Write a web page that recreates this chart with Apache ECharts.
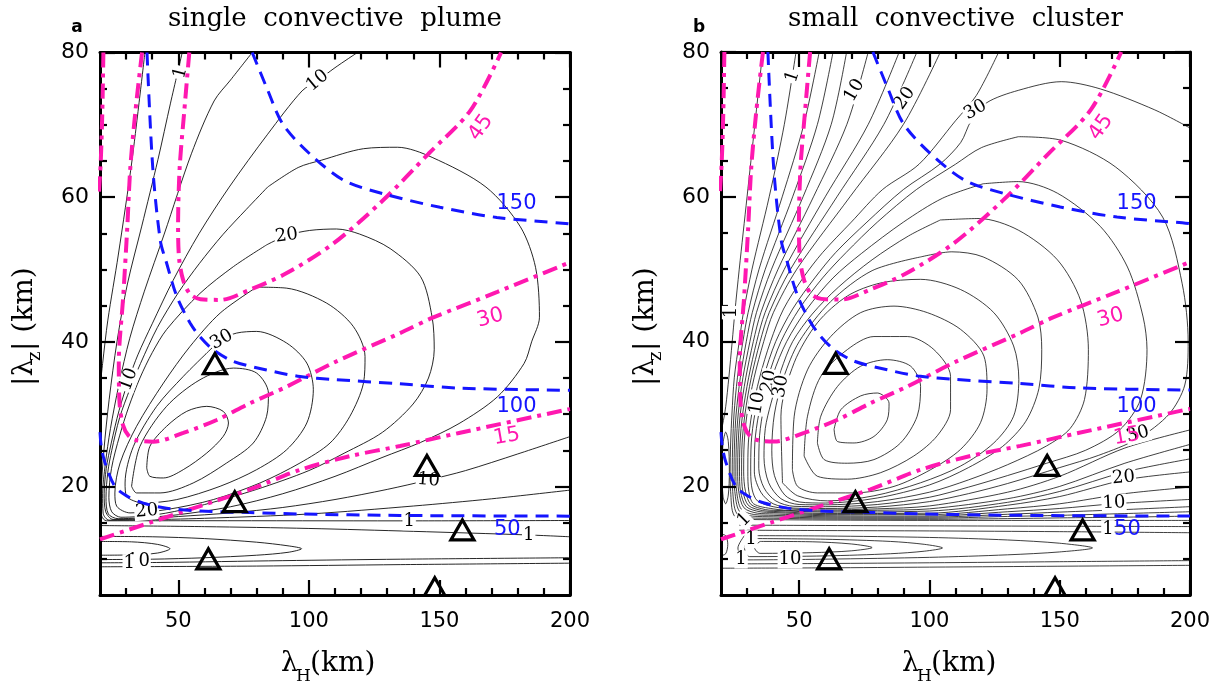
<!DOCTYPE html>
<html><head><meta charset="utf-8">
<script src="https://cdn.jsdelivr.net/npm/echarts@6/dist/echarts.min.js"></script>
<style>html,body{margin:0;padding:0;background:#fff}#c{width:1223px;height:684px}</style>
</head><body><div id="c"></div>
<script>
// ---------- axis ticks ----------
const xMajor = [50, 100, 150, 200];
const xMinor = [30, 40, 60, 70, 80, 90, 110, 120, 130, 140, 160, 170, 180, 190];
const yMajor = [20, 40, 60, 80];
const yMinor = [10, 15, 25, 30, 35, 45, 50, 55, 65, 70, 75];

// ---------- shared dashed lines (same in both panels) ----------
const m45 = [[54.2,80],[52.3,72],[50.5,64],[49.9,56],[50.3,51.5],[51.8,48.6],[54.5,46.6],[58.5,45.9],[66,45.8],[77.4,47.2],[91.5,49.5],[109.4,53.6],[128.2,59.5],[145.8,66],[161.9,72],[173.6,80]];
const m30 = [[36.1,80],[33.6,72],[31.6,64],[30.4,55.5],[28.9,46.3],[27.2,37.1],[27.5,31.5],[28.8,28.5],[31,27],[34,26.4],[40.4,26.2],[51.9,27.4],[64.7,29.2],[77.4,31.5],[91.5,33.8],[109.4,37.1],[134.9,41.2],[147.2,43.3],[172.2,46.9],[200,51]];
const m15 = [[20,12.7],[39.1,15],[58.3,17.3],[77.4,19.6],[96.6,22.3],[115.7,24.2],[134.9,25.6],[157.5,27.4],[198.5,30.6],[200,30.7]];
const m15left = [[21.3,80],[20.9,72],[20.3,65],[19.5,60]];
const b150 = [[78.3,80],[84,75],[90,70.1],[100.3,66],[113.5,62.3],[128.2,60.5],[150.2,58.6],[172,57.2],[197,56.4],[200,56.3]];
const b100 = [[38,80],[40.2,64.1],[43.1,54],[45.5,50.9],[49.4,46.3],[54.5,42.6],[58.3,40.7],[63.4,38.9],[71.1,37.3],[83.8,36.1],[96.6,35.2],[109.4,34.8],[134.9,34.2],[157.6,33.6],[200,33.3]];
const b50 = [[20,27.5],[20.5,25.5],[21.9,23.3],[25.7,20.0],[30.2,18.7],[36.6,17.7],[45.5,17.0],[58.3,16.6],[77.4,16.4],[96.6,16.2],[134.9,16.0],[200,15.9]];
const magentaLabels = [[165.9,69.6,'45',55],[169.5,43.3,'30',15],[175.8,26.9,'15',10]];
const blueLabels = [[179.5,59.1,'150',0],[179.5,31.0,'100',0],[176,14.0,'50',0]];
const triangles = [[64,37],[71.6,17.9],[61.5,10.0],[145.2,22.9],[158.8,14.0],[148.2,6.0]];

// ---------- panel a : black contours ----------
const aE1 = [[37.9,22.56],[39.1,25.55],[45.5,28.32],[53.2,30.39],[60.9,31.08],[67.2,30.39],[69.2,28.78],[67.2,26.93],[60.9,24.63],[51.9,22.33],[44.3,21.18],[39.1,21.41],[37.9,22.56]];
const aE2 = [[32.1,20.03],[35.3,25.55],[45.5,31.08],[58.3,34.76],[71.1,36.37],[80.0,35.68],[84.5,32.92],[83.8,29.70],[78.7,26.01],[68.5,23.25],[55.7,20.49],[43.0,19.11],[34.0,19.11],[32.1,20.03]];
const aE3 = [[60.9,38.45],[51.9,35.22],[41.7,31.08],[32.8,25.55],[29.6,20.49],[30.2,18.65],[36.6,17.73],[49.4,18.19],[66.0,20.03],[80.0,22.33],[91.5,25.09],[99.2,28.78],[101.7,33.38],[99.2,37.06],[91.5,39.83],[80.0,41.44],[72.3,41.21],[66.6,40.3],[60.9,38.45]];
const aE4 = [[80.0,47.56],[91.5,47.42],[106.8,45.35],[117.0,42.13],[121.5,37.98],[120.9,34.30],[115.7,29.70],[108.1,26.01],[96.6,23.25],[81.3,20.49],[63.4,18.19],[45.5,16.81],[31.5,16.35],[26.4,17.27],[25.7,19.11],[27.7,23.25],[34.0,28.32],[44.3,34.30],[54.5,39.37],[66.0,43.97],[80.0,47.56]];
const aE5 = [[83.8,53.4],[91.5,54.7],[100.3,55.4],[110.6,55.6],[119.4,54.9],[131.1,52.9],[142.8,49.0],[147.2,43.4],[148.0,38.9],[145.8,35],[139.9,31.4],[128.2,27.5],[113.5,24.6],[100,22.2],[80,19.6],[60,17.5],[45,16.3],[35,15.85],[28,15.75],[24.5,16.5],[23.4,18.5],[24.4,22.5],[27.5,27],[31,31],[35.3,35],[40,38.5],[45.5,41.7],[58.3,46.7],[71.1,50.4],[83.8,53.4]];
const aE6 = [[84.2,61.4],[95.9,64.1],[104.7,65.1],[120.9,66.7],[134.0,66.9],[147.2,65.5],[167.8,61.4],[181.0,55.9],[186.8,50.3],[188.3,43.4],[185.3,40],[182.4,37],[172.2,32.4],[157.5,28.7],[142.8,26.1],[128,24.0],[110,21.4],[90,19.0],[70,17.2],[50,16.1],[35,15.65],[27,15.55],[23.2,16.2],[22.3,18.5],[23,22],[24.5,25],[27.5,29.5],[31.5,33.5],[35.5,37],[42,42],[50,46.8],[58,50.8],[67,54.8],[76,58.3],[84.2,61.4]];
const aC10 = [[118.6,80],[110,77.9],[103.3,76.1],[97.4,74.7],[84.2,68.7],[69.5,61.4],[58,55],[48,48.5],[40,42.5],[34.5,38.2],[31,34.8],[27.3,30.5],[24.3,26],[22.4,22.5],[21.6,19],[22.2,16.5],[25,15.45],[35,15.5],[50,15.85],[70,16.35],[90,17.1],[110,18.2],[130,19.6],[145.8,20.9],[160,22.2],[180,24.5],[200,26.9]];
const aC5 = [[78.3,80],[70,76.2],[63.7,73.3],[55,66],[44.6,54.9],[37,47],[31.4,40.5],[27.2,34],[24,28],[22,23],[21,19],[21.2,16.3],[23.5,15.35],[35,15.38],[60,15.6],[100,16.2],[140,17.3],[170,18.3],[200,19.5]];
const aC1 = [[51.5,80],[47,73],[42.2,65.2],[36,56],[30.5,48],[26.5,40],[23.5,32],[21.5,25],[20.5,19],[20.6,16],[22.5,15.26],[60,15.27],[135,15.25],[200,15.3]];
const aL1 = [[37.2,80],[32.3,65.2],[27,52],[23,43],[21,37],[19.5,32]];
const aH2 = [[20,14.6],[60,14.45],[100,14.2],[140,13.8],[184,13.3],[200,13.05]];
const aEbig = [[20,13.1],[40,13.05],[60,12.8],[80,12.3],[92,11.8],[97.2,11.4],[92,10.9],[80,10.5],[60,10.15],[40,9.95],[20,9.9]];
const aEsm = [[20,12.4],[32,12.35],[42,12.0],[46.8,11.4],[42,10.8],[32,10.55],[20,10.5]];
const aLB1 = [[20,9.45],[43,9.5],[90,9.75],[135,9.95],[200,10.15]];
const aLB2 = [[20,8.9],[80,9.0],[135,9.2],[200,9.4]];
const aLabels = [[50.8,77.2,'1',75],[103.3,76.1,'10',40],[91.5,54.7,'20',8],[66.6,40.3,'30',30],[31.0,34.8,'10',70],[37.9,16.6,'20',5],[145.8,20.9,'10',-5],[138.4,15.2,'1',0],[184.2,13.3,'1',0],[34.7,9.6,'10',0],[31.2,9.4,'1',0]];

// ---------- panel b : black contours ----------
const bR1 = [[63.4,27.9],[66.0,30.6],[73.6,32.5],[80.0,32.9],[84.5,31.5],[83.8,29.2],[78.7,26.9],[71.1,26.0],[64.7,26.2],[63.4,27.9]];
const bR2 = [[57.0,26.0],[58.3,29.7],[64.7,33.8],[73.6,36.6],[83.8,37.5],[92.8,36.6],[96.6,33.8],[95.3,29.7],[88.9,26.0],[78.7,23.7],[68.5,23.2],[59.6,23.7],[57.0,26.0]];
const bR3 = [[51.9,24.2],[53.2,29.7],[58.3,35.2],[68.5,38.9],[78.7,40.7],[91.5,40.7],[101.7,38.9],[108.1,35.2],[108.1,30.6],[103.0,27.0],[94.0,24.2],[81.3,21.9],[68.5,21.0],[57.0,21.4],[51.9,24.2]];
const bR4 = [[47.4,22.3],[48.1,29.7],[53.2,36.1],[62.1,40.7],[73.6,44.0],[86.4,44.9],[99.2,44.0],[111.9,41.7],[120.9,38.0],[122.1,33.4],[119.6,28.8],[111.9,25.1],[100.4,22.3],[86.4,20.0],[71.1,19.1],[57.0,19.1],[49.4,20.0],[47.4,22.3]];
const bR5 = [[43.6,20.5],[43.0,29.7],[48.1,37.1],[57.0,42.6],[68.5,46.3],[81.3,48.1],[96.6,48.6],[111.9,47.2],[124.7,44.0],[132.3,39.4],[134.3,34.8],[132.3,29.7],[124.7,26.0],[111.9,22.8],[96.6,20.5],[78.7,18.7],[60.9,18.0],[49.4,18.7],[43.6,20.5]];
const bR6 = [[96.7,51.7],[108.6,52.4],[120.6,51.7],[134.1,48.5],[141.6,43.4],[143.1,38.9],[142,33.5],[137,29],[128,25.5],[115,22.6],[100,20.2],[80,18.4],[60,17.7],[50,17.85],[44.5,18.8],[40.5,21.5],[39.5,25],[40.5,30],[44,35],[50,40],[62,45.5],[78,49.8],[96.7,51.7]];
const bR7 = [[104.2,56.8],[119.1,57],[134.1,55.4],[149.1,51.3],[158,45.7],[161,38.9],[159.5,32],[154,28],[145,25.6],[130,23.0],[115,20.9],[100,19.2],[80,17.9],[60,17.45],[50,17.5],[43,18.3],[38.3,20.5],[36.5,24],[37,28],[39.2,31.5],[43,36],[47.5,40],[55,43.8],[65,47.5],[78,51.3],[92,54.6],[104.2,56.8]];
const bR8 = [[120.6,61.8],[134.1,62.1],[149.1,60.5],[165.6,55.9],[176,50.3],[182,43.4],[183.5,38.9],[181,32],[173,27.8],[160,25.0],[145,23.2],[130,21.5],[115,19.9],[100,18.5],[80,17.5],[60,17.2],[48,17.25],[41,18.0],[36.5,19.8],[34.5,22.5],[34.8,27],[36.5,31],[40,35.5],[45.2,40],[53,44.5],[63,48.8],[74,52.2],[90,56.5],[105,59.8],[120.6,61.8]];
const bR9 = [[134.1,68.3],[150.6,67.8],[171.5,64.1],[189.5,57.2],[197,48],[199.3,40],[198,34],[192,30],[180,26.6],[165,24.3],[150,22.6],[130,20.4],[115,19.0],[100,17.9],[80,17.15],[60,16.95],[48,17.0],[40,17.6],[35.3,19.2],[32.8,22],[33,26],[34.5,30],[38,35],[43,40],[50,44.5],[59,48.8],[68,52.3],[80,56.5],[95,61],[110,64.5],[120,66.8],[134.1,68.3]];
const bA = [[200,69.5],[186.5,72.0],[165.6,74.9],[150.6,75.9],[134.1,74.7],[122,73],[116,70.5],[112,67.5],[104,64.5],[90,61],[76,56.5],[64,52.3],[56,48.8],[47.5,44.5],[41,40],[36.3,35],[33,30],[31.6,26],[31.4,22],[32,19.5],[34,18.0],[40,17.2],[48,16.85],[60,16.75],[80,16.9],[100,17.3],[130,19.2],[150,21.4],[175,25.3],[200,27.8]];
const bO9 = [[126.6,80],[118,74],[110,70.5],[96,64.5],[82,61],[70,56.5],[59,52.3],[51.5,48.8],[44,44.5],[39,40],[34.8,35],[31.8,30],[30.5,26],[30.3,22],[30.7,19.3],[32.5,17.6],[40,16.9],[48,16.65],[60,16.6],[80,16.7],[100,16.9],[130,18.3],[150,20.0],[175,23.2],[200,25.8]];
const bO8 = [[104.2,80],[90,70],[69.5,60],[49.1,50],[40.1,44],[36.4,40],[32.7,35],[30,30],[28.9,26],[28.7,22],[29.4,19.3],[31.5,17.5],[37,16.8],[40,16.7],[60,16.45],[100,16.6],[130,17.8],[150,19.3],[175,22.0],[200,23.8]];
const bO7 = [[95.2,80],[82.5,70],[64.5,60],[46.7,50],[38.5,44],[35,40],[31.6,35],[29.2,30],[28.1,26],[27.9,22],[28.4,19.3],[30.6,17.35],[36,16.65],[40,16.55],[60,16.25],[100,16.3],[130,17.4],[150,18.6],[175,20.9],[200,22.0]];
const bO6 = [[88.4,80],[76.5,70],[60,60],[44.3,50],[36.9,44],[33.7,40],[30.6,35],[28.3,30],[27.3,26],[27.1,22],[27.5,19.3],[29.7,17.2],[35,16.5],[40,16.4],[60,16.1],[100,16.1],[130,16.9],[150,17.6],[175,19.0],[200,19.9]];
const bO5 = [[76.5,80],[68.3,70],[55.5,60],[41.9,50],[35.3,44],[32.4,40],[29.5,35],[27.4,30],[26.6,26],[26.4,22],[26.8,19.3],[28.8,17.05],[34,16.3],[40,16.2],[60,15.95],[100,15.9],[130,16.5],[150,16.95],[170.8,17.6],[200,18.2]];
const bO4 = [[68.2,80],[62.3,70],[51.5,60],[39.4,50],[33.6,44],[31.1,40],[28.4,35],[26.6,30],[25.9,26],[25.7,22],[26.0,19.3],[27.8,16.85],[33,16.1],[40,16.0],[60,15.8],[100,15.75],[130,16.15],[150,16.45],[175,16.8],[200,17.2]];
const bO3 = [[63,80],[57,70],[47.5,60],[37,50],[32,44],[29.7,40],[27.4,35],[25.8,30],[25.2,26],[25.0,22],[25.3,19.3],[27,16.6],[32,15.9],[40,15.8],[60,15.65],[100,15.6],[130,15.85],[150,16.0],[175,16.25],[200,16.5]];
const bO2 = [[57.7,80],[51.8,70],[43.5,60],[34.6,50],[30.4,44],[28.4,40],[26.3,35],[25.0,30],[24.5,26],[24.3,22],[24.5,19.3],[26,16.3],[31,15.65],[40,15.6],[60,15.5],[100,15.45],[130,15.55],[150,15.65],[175,15.75],[200,15.9]];
const bO1 = [[48.8,80],[44.3,70],[38.5,60],[31.9,50],[28.6,44],[27,40],[25.1,35],[24.2,30],[23.7,26],[23.5,22],[23.7,19.3],[25,16.0],[30,15.45],[40,15.4],[60,15.35],[100,15.3],[150,15.3],[200,15.3]];
const bO0 = [[36,80],[33,70],[30,60],[27,50],[25.3,44],[24.3,40],[23,35],[21.8,31],[20.6,28.5],[19.8,27.5]];
const bEb = [[20.3,22],[20.8,26],[21.8,27.5],[22.8,26.2],[23.2,22],[22.8,18.8],[21.8,17.6],[20.8,18.6],[20.3,22]];
const bEc = [[19.8,10.4],[21.8,10.7],[22.6,12],[21.8,13.2],[19.8,13.4]];
const bH2 = [[27,14.65],[60,14.6],[100,14.55],[150,14.5],[200,14.45]];
const bH3 = [[27,13.95],[60,13.9],[100,13.85],[150,13.75],[200,13.6]];
const bE1 = [[29,13.2],[60,13.15],[100,12.95],[130,12.6],[150,12.15],[162.6,11.5],[150,10.95],[130,10.55],[100,10.2],[60,9.95],[29,9.85],[26.5,11.5],[29,13.2]];
const bE2 = [[31,12.8],[60,12.7],[85,12.4],[98,12.0],[105,11.5],[98,11.05],[85,10.7],[60,10.4],[31,10.3],[29,11.55],[31,12.8]];
const bE3 = [[35,12.4],[55,12.35],[70,12.05],[78,11.55],[70,11.1],[55,10.85],[35,10.75],[32.8,11.6],[35,12.4]];
const bLB1 = [[26,9.3],[60,9.35],[100,9.45],[150,9.6],[200,9.75]];
const bLB2 = [[20,8.7],[60,8.75],[100,8.85],[200,9.1]];
const bLabels = [[47.5,76.6,'1',72],[71.2,74.7,'10',60],[90.5,73.6,'20',55],[117.6,72,'30',30],[23.8,44,'1',90],[34,31.5,'10',80],[38.5,34.5,'20',80],[43,33.8,'30',80],[174.5,21.2,'20',5],[170.8,17.7,'10',3],[180,27.2,'30',15],[168.5,14.1,'1',0],[46.5,9.9,'10',0],[28.9,15.4,'1',45],[31.5,12.7,'1',0],[27.7,9.9,'1',0]];

const aBlack = [aE1,aE2,aE3,aE4,aE5,aE6,aC10,aC5,aC1,aL1,aH2,aEbig,aEsm,aLB1,aLB2];
const bBlack = [bR1,bR2,bR3,bR4,bR5,bR6,bR7,bR8,bR9,bA,bO9,bO8,bO7,bO6,bO5,bO4,bO3,bO2,bO1,bO0,bEb,bEc,bH2,bH3,bE1,bE2,bE3,bLB1,bLB2];

// ---------- build ----------
const SERIF = '"DejaVu Serif", serif';
const SANS = '"DejaVu Sans", sans-serif';
const grids = [
  {left: 100, top: 52.5, width: 470, height: 542.5},
  {left: 721, top: 52, width: 469, height: 543}
];
function axX(gi, pos, major) {
  return {type:'value', gridIndex:gi, min:20, max:200, position:pos,
    splitLine:{show:false},
    axisLine:{show:major, onZero:false, lineStyle:{color:'#000', width:3}},
    axisTick:{show:true, inside:true, length: major?15:7, customValues: major?xMajor:xMinor, lineStyle:{color:'#000', width:2.2}},
    axisLabel:{show: major && pos==='bottom', customValues:xMajor, margin:16, color:'#000', fontSize:21, fontFamily:SANS}};
}
function axY(gi, pos, major) {
  return {type:'value', gridIndex:gi, min:5, max:80, position:pos,
    splitLine:{show:false},
    axisLine:{show:major, onZero:false, lineStyle:{color:'#000', width:3}},
    axisTick:{show:true, inside:true, length: major?15:7, customValues: major?yMajor:yMinor, lineStyle:{color:'#000', width:2.2}},
    axisLabel:{show: major && pos==='left', customValues:yMajor, margin:11, color:'#000', fontSize:22, fontFamily:SANS}};
}
const xAxes = [], yAxes = [];
[0,1].forEach(g => {
  xAxes.push(axX(g,'bottom',true), axX(g,'bottom',false), axX(g,'top',true), axX(g,'top',false));
  yAxes.push(axY(g,'left',true), axY(g,'left',false), axY(g,'right',true), axY(g,'right',false));
});
function line(gi, data, color, width, type, z) {
  return {type:'line', xAxisIndex:gi*4, yAxisIndex:gi*4, data, symbol:'none', showSymbol:false,
    smooth:0.3, clip:true, silent:true, z, lineStyle:{color, width, type, cap:'butt'}};
}
function labels(gi, arr, color, font, bg, z) {
  return {type:'custom', coordinateSystem:'cartesian2d', xAxisIndex:gi*4, yAxisIndex:gi*4, z, silent:true, clip:false,
    data: arr.map(d => [d[0], d[1]]),
    renderItem: (params, api) => {
      const d = arr[params.dataIndex];
      const p = api.coord([d[0], d[1]]);
      return {type:'text', x:p[0], y:p[1], rotation:(d[3]||0)*Math.PI/180,
        style:{text:d[2], fill:color, font, align:'center', verticalAlign:'middle',
          backgroundColor: bg || 'transparent', padding: bg ? [0,1] : 0}};
    }};
}
function tris(gi) {
  return {type:'custom', coordinateSystem:'cartesian2d', xAxisIndex:gi*4, yAxisIndex:gi*4, z:8, silent:true, clip:true,
    data: triangles,
    renderItem: (params, api) => {
      const p = api.coord([api.value(0), api.value(1)]);
      return {type:'polygon', shape:{points:[[p[0],p[1]-10],[p[0]-11.5,p[1]+10],[p[0]+11.5,p[1]+10]]},
        style:{fill:'none', stroke:'#000', lineWidth:3.2, lineJoin:'miter'}};
    }};
}
const series = [];
const MAG = '#ff18b0', BLUE = '#1515ff';
[[0,aBlack,aLabels,0.85],[1,bBlack,bLabels,0.75]].forEach(([g, blacks, labs, lw]) => {
  blacks.forEach(d => series.push(line(g, d, '#000', lw, 'solid', 2)));
  series.push(labels(g, labs, '#000', '18px ' + SERIF, '#fff', 3));
  [m45, m30, m15, m15left].forEach(d => series.push(line(g, d, MAG, 4, [15,6,4,6], 5)));
  [b150, b100, b50].forEach(d => series.push(line(g, d, BLUE, 3, [13,8], 5)));
  series.push(labels(g, magentaLabels, MAG, '21px ' + SANS, null, 6));
  series.push(labels(g, blueLabels, BLUE, '21px ' + SANS, null, 6));
  series.push(tris(g));
});

function T(x, y, text, font, align, vAlign) {
  return {type:'text', x, y, style:{text, font, fill:'#000', align: align||'left', verticalAlign: vAlign||'middle', textAlign: align||'left', textVerticalAlign: vAlign||'middle'}};
}
const graphic = [];
[[0, 335, 'single  convective  plume', 'a', 77], [1, 955.5, 'small  convective  cluster', 'b', 699]].forEach(([g, cx, title, letter, lx]) => {
  const off = g === 0 ? 0 : 621;
  graphic.push(T(cx, 19, title, '26px ' + SERIF, 'center'));
  graphic.push(T(lx, 28, letter, 'bold 17px ' + SANS, 'center'));
  graphic.push(T(281 + off, 664, 'λ', '27px ' + SERIF));
  graphic.push(T(296 + off, 677, 'H', '17px ' + SERIF));
  graphic.push(T(310 + off, 664, '(km)', '28px ' + SERIF));
  graphic.push({type:'group', x: 25 + off, y: 324, rotation: Math.PI/2, children: [
    T(-62, 0, '|λ', '28px ' + SERIF),
    T(-37, 10, 'z', '18px ' + SERIF),
    T(-27, 0, '| (km)', '28px ' + SERIF)
  ]});
});

const chart = echarts.init(document.getElementById('c'), null, {renderer:'canvas'});
chart.setOption({animation:false, backgroundColor:'#fff', grid:grids, xAxis:xAxes, yAxis:yAxes, series, graphic});
</script></body></html>
